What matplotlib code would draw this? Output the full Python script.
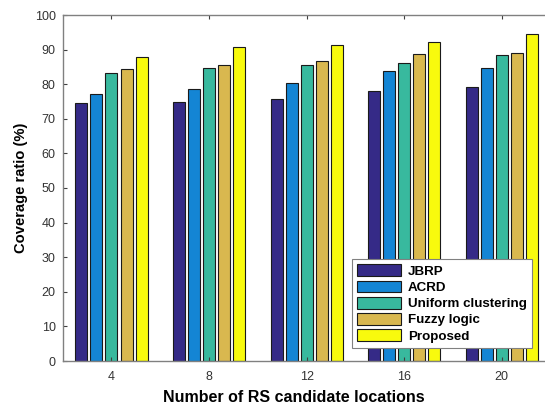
import numpy as np
import matplotlib
matplotlib.use("Agg")
import matplotlib.pyplot as plt

plt.rcParams['font.family'] = ['Liberation Sans', 'DejaVu Sans']

locations = ["4", "8", "12", "16", "20"]
methods = ["JBRP", "ACRD", "Uniform clustering", "Fuzzy logic", "Proposed"]
jbrp = [74.7, 74.9, 75.6, 77.9, 79.2]
acrd = [77.3, 78.6, 80.3, 83.7, 84.8]
uniform = [83.3, 84.6, 85.5, 86.2, 88.5]
fuzzy = [84.4, 85.6, 86.7, 88.8, 89.1]
proposed = [87.9, 90.8, 91.2, 92.1, 94.5]
colors = ["#352a87", "#1485d4", "#38b99e", "#d9b84f", "#f8fa0d"]

series = [jbrp, acrd, uniform, fuzzy, proposed]

fig = plt.figure(figsize=(5.45, 4.05), dpi=100)
ax = fig.add_axes([62.7 / 545, 1 - 361 / 405, (550.5 - 62.7) / 545, (361 - 15) / 405])

# grouped bars: five methods per candidate-location count
x = np.arange(1, len(locations) + 1)
step = 0.154
width = 0.123
for k, (vals, name, c) in enumerate(zip(series, methods, colors)):
    ax.bar(x + (k - 2) * step, vals, width, color=c, edgecolor="#1a1a1a",
           linewidth=0.8, label=name)

ax.set_xlim(0.5, 5.5)
ax.set_ylim(0, 100)
ax.set_yticks(np.arange(0, 101, 10))
ax.set_xticks(x)
ax.set_xticklabels(locations)
ax.tick_params(direction="in", top=True, right=True, labelsize=9,
               colors="#404040", length=3, width=0.8)
ax.tick_params(axis="y", pad=5)
ax.tick_params(axis="x", pad=7)
for lab in ax.get_xticklabels() + ax.get_yticklabels():
    lab.set_color("#333333")
for sp in ax.spines.values():
    sp.set_color("#808080")
    sp.set_linewidth(1.0)

ax.set_xlabel("Number of RS candidate locations", fontsize=11.5, fontweight="bold")
ax.xaxis.set_label_coords(0.474, -0.083)
ax.set_ylabel("Coverage ratio (%)", fontsize=10.6, fontweight="bold", labelpad=5)

leg = ax.legend(loc="upper left", bbox_to_anchor=(352 / 545, 1 - 259 / 405),
                bbox_transform=fig.transFigure, borderaxespad=0,
                prop={"weight": "bold", "size": 9.6},
                fancybox=False, framealpha=1, edgecolor="#808080",
                handlelength=3.3, handleheight=1.0, labelspacing=0.2,
                borderpad=0.4, handletextpad=0.5)
leg.get_frame().set_linewidth(0.8)

fig.savefig("out.png", dpi=100)
